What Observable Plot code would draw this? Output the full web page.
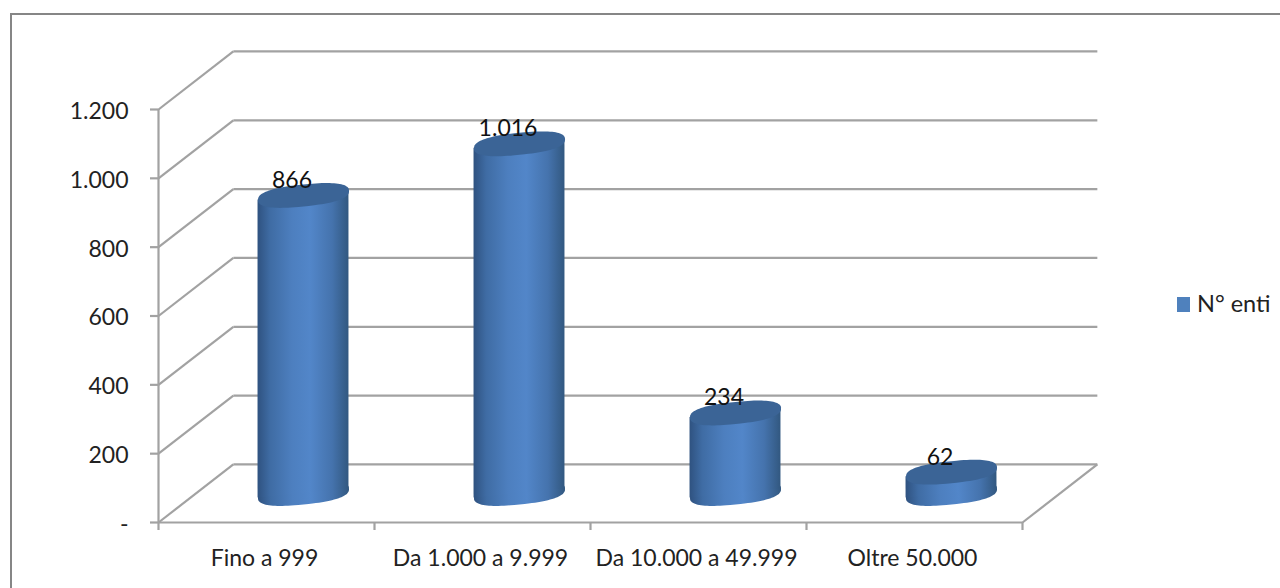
<!DOCTYPE html>
<html>
<head>
<meta charset="utf-8">
<script src="https://cdn.jsdelivr.net/npm/d3@7"></script>
<script src="https://cdn.jsdelivr.net/npm/@observablehq/plot@0.6"></script>
<style>
  html, body { margin: 0; padding: 0; background: #fff; overflow: hidden; width: 1280px; height: 588px; }
  #stage { position: relative; width: 1280px; height: 588px; overflow: hidden; font-family: Lato, sans-serif; }
  #frame { position: absolute; left: 10px; top: 13px; width: 1400px; height: 700px; border: 2px solid #868686; box-sizing: border-box; }
  #chart { position: absolute; left: 0; top: 0; }
  #legend { position: absolute; left: 1177px; top: 290px; height: 26px; display: flex; align-items: center; color: #222; font-size: 23.5px; white-space: nowrap; }
  #legend i { display: block; width: 13px; height: 15px; background: #4f81bd; margin-right: 7px; position: relative; top: 1px; }
</style>
</head>
<body>
<div id="stage">
  <div id="frame"></div>
  <div id="chart"></div>
  <div id="legend"><i></i><span>N° enti</span></div>
</div>
<script>
const categories = ["Fino a 999", "Da 1.000 a 9.999", "Da 10.000 a 49.999", "Oltre 50.000"];
const values = [866, 1016, 234, 62];
const yTicks = [0, 200, 400, 600, 800, 1000, 1200];
const slots = [0, 1, 2, 3, 4];

// 3D projection expressed in data units
const depthX = 0.3465, depthY = 168.6;
const halfWidth = 0.2105, tilt = 13;
const gridColor = "#a2a2a2";

const bars = categories.map((c, i) => ({category: c, center: i + 0.5, value: values[i]}));
const body = bars.flatMap(b => [
  {category: b.category, x: b.center - halfWidth, y1: -tilt, y2: b.value - tilt},
  {category: b.category, x: b.center + halfWidth, y1: tilt, y2: b.value + tilt}
]);

// a flattened, slightly tilted, slightly squared circle: the visible face of the cylinder
const ellipse = {
  draw(ctx) {
    const rx = 45.5, ry = 11, sh = 4.5, n = 96, e = 0.8;
    const pow = v => Math.sign(v) * Math.pow(Math.abs(v), e);
    for (let k = 0; k < n; ++k) {
      const t = 2 * Math.PI * k / n;
      const c = pow(Math.cos(t)), s = pow(Math.sin(t));
      const px = rx * c, py = ry * s - sh * c;
      k ? ctx.lineTo(px, py) : ctx.moveTo(px, py);
    }
    ctx.closePath();
  }
};

const fmt = v => v === 0 ? "-" : d3.format(",")(v).replace(/,/g, ".");
const offset = {dx: 37, dy: -29};
const line = {stroke: gridColor, strokeWidth: 2.2};

const plot = Plot.plot({
  width: 1280,
  height: 588,
  marginLeft: 158,
  marginRight: 258,
  marginTop: 109,
  marginBottom: 66,
  style: {background: "transparent", fontFamily: "Lato, sans-serif", overflow: "visible"},
  x: {domain: [0, 4]},
  y: {domain: [0, 1200]},
  marks: [
    // left wall diagonals
    Plot.link(yTicks, {x1: 0, y1: d => d, x2: depthX, y2: d => d + depthY, ...line}),
    // back wall gridlines
    Plot.link(yTicks, {x1: depthX, y1: d => d + depthY, x2: 4 + depthX, y2: d => d + depthY, ...line}),
    // floor right edge and front edge
    Plot.link([0], {x1: 4, y1: 0, x2: 4 + depthX, y2: depthY, ...line}),
    Plot.ruleY([0], line),
    Plot.ruleX([0], {y1: 0, y2: 1200, ...line}),
    // axes
    Plot.axisY({ticks: yTicks, tickSize: 8, label: null, ...line, fill: "none"}),
    Plot.axisY({ticks: yTicks, tickFormat: fmt, tickSize: 0, tickPadding: 30, label: null, fill: "#222", fontSize: 23, dy: 2}),
    Plot.axisX({ticks: slots, tickSize: 8, label: null, ...line, fill: "none"}),
    Plot.axisX({ticks: categories.map((c, i) => i + 0.5), tickFormat: d => categories[d - 0.5], tickSize: 0, tickPadding: 27, label: null, fill: "#222", fontSize: 23, dx: -2}),
    // cylinders
    Plot.dot(bars, {x: "center", y: 0, symbol: ellipse, fill: "url(#cyl)", stroke: "none", ...offset}),
    Plot.area(body, {x1: "x", y1: "y1", y2: "y2", z: "category", fill: "url(#cyl)", stroke: "none", ...offset}),
    Plot.dot(bars, {x: "center", y: "value", symbol: ellipse, fill: "#3b6496", stroke: "none", ...offset}),
    // value labels
    Plot.text(bars, {x: "center", y: "value", text: d => fmt(d.value), dx: 25.5, dy: -44, fontSize: 23, fill: "#111"})
  ]
});

d3.select(plot).append("defs").html(`
  <linearGradient id="cyl" x1="0" x2="1" y1="0" y2="0">
    <stop offset="0" stop-color="#2f5280"/>
    <stop offset="0.14" stop-color="#3f6ca4"/>
    <stop offset="0.38" stop-color="#4d7fbf"/>
    <stop offset="0.58" stop-color="#5286c9"/>
    <stop offset="0.82" stop-color="#4573ad"/>
    <stop offset="1" stop-color="#325880"/>
  </linearGradient>`);

document.getElementById("chart").appendChild(plot);
</script>
</body>
</html>
